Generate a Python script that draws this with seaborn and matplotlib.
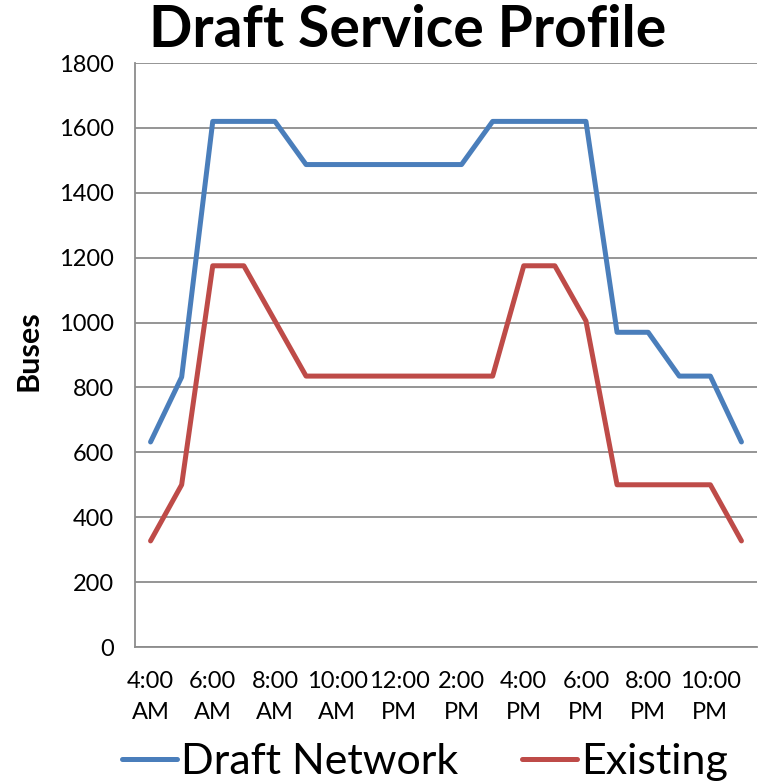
import matplotlib
matplotlib.use("Agg")
import matplotlib.pyplot as plt
import seaborn as sns
import pandas as pd
from matplotlib.lines import Line2D

hours = ["4:00 AM", "5:00 AM", "6:00 AM", "7:00 AM", "8:00 AM", "9:00 AM",
         "10:00 AM", "11:00 AM", "12:00 PM", "1:00 PM", "2:00 PM", "3:00 PM",
         "4:00 PM", "5:00 PM", "6:00 PM", "7:00 PM", "8:00 PM", "9:00 PM",
         "10:00 PM", "11:00 PM"]
draft_network = [632, 832, 1620, 1620, 1620, 1487, 1487, 1487, 1487, 1487,
                 1487, 1620, 1620, 1620, 1620, 970, 970, 835, 835, 632]
existing = [327, 500, 1175, 1175, 1005, 835, 835, 835, 835, 835,
            835, 835, 1175, 1175, 1005, 500, 500, 500, 500, 327]
series_names = ["Draft Network", "Existing"]
y_ticks = [0, 200, 400, 600, 800, 1000, 1200, 1400, 1600, 1800]

df = pd.DataFrame({
    "idx": list(range(len(hours))) * 2,
    "Buses": draft_network + existing,
    "series": [series_names[0]] * len(hours) + [series_names[1]] * len(hours),
})

sns.set_theme(style="white")
plt.rcParams["font.family"] = ["Lato", "DejaVu Sans"]
plt.rcParams["text.color"] = "black"
plt.rcParams["axes.labelcolor"] = "black"
plt.rcParams["xtick.labelcolor"] = "black"
plt.rcParams["ytick.labelcolor"] = "black"

fig = plt.figure(figsize=(7.59, 7.83), dpi=100)
ax = fig.add_axes([135 / 759, 1 - 647 / 783, 622 / 759, 584 / 783])

palette = {"Draft Network": "#4A7EBB", "Existing": "#BE4B48"}
sns.lineplot(data=df, x="idx", y="Buses", hue="series", palette=palette,
             linewidth=3.6, ax=ax, legend=False, sort=False)

grey = "#8c8c8c"
ax.set_xlim(-0.5, len(hours) - 0.5)
ax.set_ylim(0, 1800)
ax.set_yticks(y_ticks)
ax.set_yticklabels([str(v) for v in y_ticks], fontsize=17, color="black")
ax.yaxis.grid(True, color=grey, linewidth=1.3)
ax.xaxis.grid(False)

ax.set_xticks([i - 0.5 for i in range(len(hours) + 1)], minor=True)
lab_idx = list(range(0, len(hours), 2))
ax.set_xticks(lab_idx)
ax.set_xticklabels([hours[i].replace(" ", "\n") for i in lab_idx], fontsize=17,
                   linespacing=1.6, color="black")
ax.tick_params(axis="x", which="major", length=0, pad=17)
ax.tick_params(axis="x", which="minor", length=6, width=1.3, color=grey, direction="out")
ax.tick_params(axis="y", which="major", length=7, width=1.3, color=grey, direction="out", pad=8)

for s in ["top", "right"]:
    ax.spines[s].set_visible(False)
for s in ["left", "bottom"]:
    ax.spines[s].set_color(grey)
    ax.spines[s].set_linewidth(1.3)

ax.set_xlabel("")
ax.set_ylabel("Buses", fontsize=22, fontweight="bold", color="black")
ax.yaxis.set_label_coords(-0.148, 0.507)

fig.text(408 / 759, 1 - 47 / 783, "Draft Service Profile", ha="center", va="baseline",
         fontsize=41, fontweight="bold", color="black")

handles = [Line2D([0], [0], color=palette[n], linewidth=3.6) for n in series_names]
leg = fig.legend(handles, series_names, loc="center", bbox_to_anchor=(425 / 759, 1 - 762 / 783),
                 ncol=2, frameon=False, fontsize=31, handlelength=1.28, handletextpad=0.1,
                 columnspacing=1.47, borderpad=0)
for t in leg.get_texts():
    t.set_color("black")

fig.savefig("out.png", dpi=100)
